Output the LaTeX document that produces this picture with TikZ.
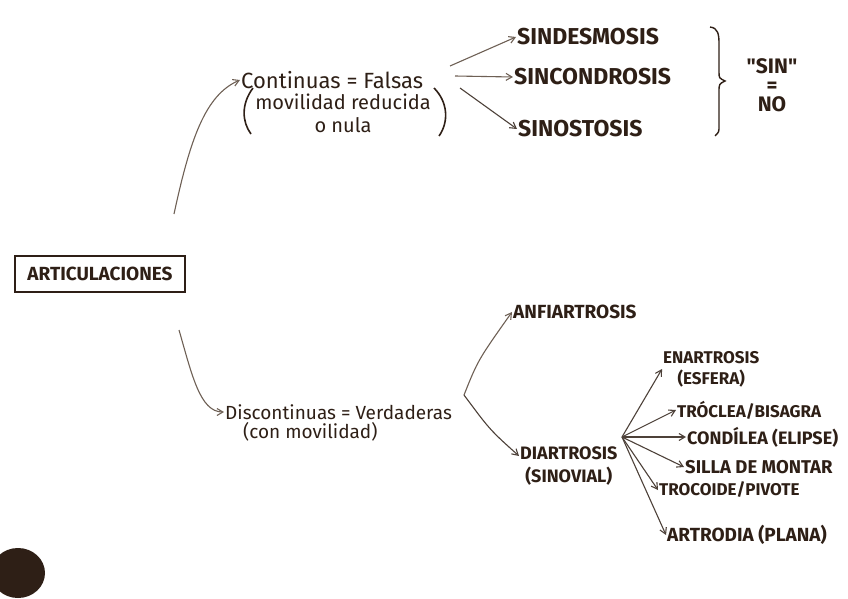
\documentclass[tikz,border=0pt]{standalone}
\usepackage{fontspec}
\setmainfont{Fira Sans}
\usetikzlibrary{arrows.meta,positioning,calc}
\definecolor{ink}{HTML}{2E1F16}
\definecolor{pencil}{HTML}{6E6055}

\begin{document}
\begin{tikzpicture}[
    x=1pt, y=-1pt,
    text=ink,
    hand/.style={font=\fontsize{20}{23}\selectfont, inner sep=1pt},
    caps/.style={font=\fontsize{23}{25}\selectfont\bfseries, inner sep=1pt, anchor=west},
    kind/.style={font=\fontsize{17}{19}\selectfont\bfseries, inner sep=1pt, anchor=west},
    link/.style={-{Straight Barb[length=6pt,width=7pt]}, draw=pencil, line width=1.1pt},
    dark/.style={link, draw=ink!85},
    ]

\useasboundingbox (0,0) rectangle (848,599);

% ---- root ----
\node[draw=ink, line width=1.6pt, font=\fontsize{19}{21}\selectfont\bfseries,
      minimum width=170pt, minimum height=36pt] (art) at (100,274) {ARTICULACIONES};

% ---- continuas ----
\node[hand, anchor=west, font=\fontsize{22}{24}\selectfont] (cont) at (240,80) {Continuas = Falsas};
\node[hand, align=center] (contsub) at (343,113) {movilidad reducida\\o nula};
\draw[ink, line width=1.6pt] (253,88) .. controls (241,104) and (242,122) .. (251,134);
\draw[ink, line width=1.6pt] (434,88) .. controls (448,102) and (449,122) .. (439,136);

\node[caps] (sindes) at (516,37) {SINDESMOSIS};
\node[caps] (sincon) at (513,77) {SINCONDROSIS};
\node[caps] (sinost) at (517,129) {SINOSTOSIS};

% "sin" = no, with its brace
\draw[ink, line width=1.4pt] (710,27) .. controls (718,28) and (719,34) .. (719,44)
      -- (719,72) .. controls (719,78) .. (725,81) .. controls (719,84) .. (719,92)
      -- (719,126) .. controls (719,132) .. (715,136);
\node[font=\fontsize{21}{19}\selectfont\bfseries, align=center, inner sep=1pt]
      (sinno) at (772,85) {\textquotedbl SIN\textquotedbl\\=\\NO};

% ---- discontinuas ----
\node[hand, anchor=west, font=\fontsize{19}{22}\selectfont] (disc) at (224,412) {Discontinuas = Verdaderas};
\node[hand, font=\fontsize{19}{22}\selectfont, anchor=north west,
      below right=1pt and 18pt of disc.south west] (discsub) {(con movilidad)};

\node[caps, font=\fontsize{19}{21}\selectfont\bfseries] (anfi) at (512,312) {ANFIARTROSIS};
\node[caps, font=\fontsize{18}{23}\selectfont\bfseries, align=center] (diar) at (519,466) {DIARTROSIS\\(SINOVIAL)};

\node[kind, align=center, font=\fontsize{17}{21}\selectfont\bfseries] (enar) at (662,369) {ENARTROSIS\\(ESFERA)};
\node[kind] (troc) at (676,410) {TRÓCLEA/BISAGRA};
\node[kind, font=\fontsize{18}{20}\selectfont\bfseries] (cond) at (686,437) {CONDÍLEA (ELIPSE)};
\node[kind, font=\fontsize{18.5}{20}\selectfont\bfseries] (silla) at (684,467) {SILLA DE MONTAR};
\node[kind] (pivo) at (658,490) {TROCOIDE/PIVOTE};
\node[kind, font=\fontsize{19}{21}\selectfont\bfseries] (artr) at (666,535) {ARTRODIA (PLANA)};

% ---- edges ----
\coordinate (artup) at (174,214);
\coordinate (artdown) at (179,330);
\draw[link] (artup) .. controls (190,140) and (205,95) .. (cont.west);
\draw[link] (artdown) .. controls (192,375) and (200,412) .. (disc.west);

\coordinate (contR) at (455,76);
\draw[link] ($(contR)+(-5,-10)$) -- (sindes.west);
\draw[link] (contR) -- (sincon.west);
\draw[dark] ($(contR)+(5,12)$) -- (sinost.west);

\coordinate (discR) at (464,395);
\draw[link] (discR) .. controls (478,360) .. (anfi.west);
\draw[dark] (discR) .. controls (490,430) .. (diar.west |- 0,456);

\coordinate (diarR) at (622,437);
\foreach \leaf in {enar,troc,cond,silla,pivo,artr}
  \draw[dark] (diarR) -- (\leaf.west);

% ink blot
\fill[ink] (18,573) ellipse (27 and 25);
\end{tikzpicture}
\end{document}
